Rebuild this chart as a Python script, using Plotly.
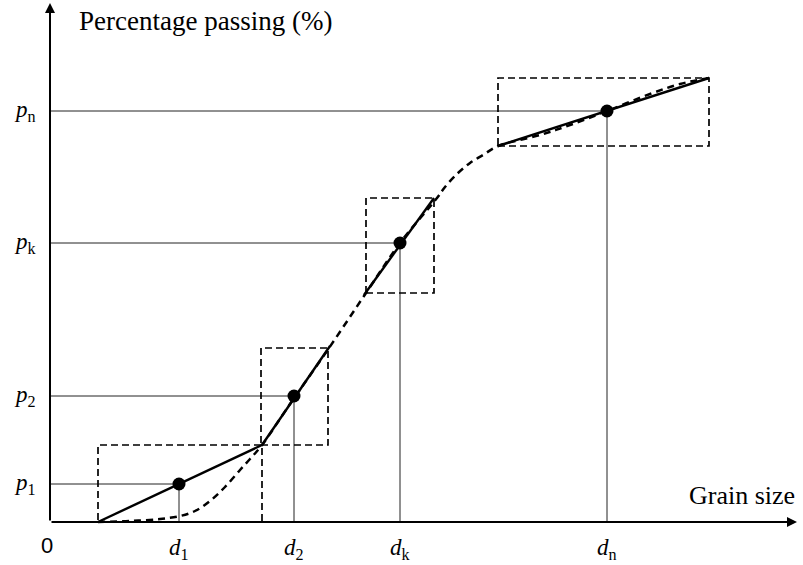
import plotly.graph_objects as go

# Characteristic points (grain size d_i, percentage passing p_i), arbitrary units
d_labels = ["<i>d</i><sub>1</sub>", "<i>d</i><sub>2</sub>", "<i>d</i><sub>k</sub>", "<i>d</i><sub>n</sub>"]
p_labels = ["<i>p</i><sub>1</sub>", "<i>p</i><sub>2</sub>", "<i>p</i><sub>k</sub>", "<i>p</i><sub>n</sub>"]
d_vals = [129, 244, 350, 557]
p_vals = [38, 126, 279, 411]

# Dashed boxes around each point: [x0, x1, y0, y1]
box_x0 = [48, 211, 316, 448]
box_x1 = [212, 278, 384, 659]
box_y0 = [0, 77, 229, 376]
box_y1 = [77, 174, 324, 444]

# Solid linear segments (start/end)
seg_x0 = [48, 212, 314, 448]
seg_y0 = [0, 77, 227, 376]
seg_x1 = [212, 280, 384, 659]
seg_y1 = [77, 176, 324, 444]

# Dashed grading curve
curve_x = [48, 80, 110, 130, 145, 160, 175, 190, 200, 212, 240, 279, 316, 350, 387, 395, 408, 420, 433, 448, 490, 520, 557, 600, 630, 659]
curve_y = [0, 1, 3, 6, 11, 21, 35, 52, 63, 77, 118, 174, 229, 279, 324, 335, 349, 359, 367, 376, 387, 397, 411, 428, 438, 444]

x_range = [-50, 753]
y_range = [-43, 522]

fig = go.Figure()

# Guide lines from axes to points
for dx, py in zip(d_vals, p_vals):
    fig.add_trace(go.Scatter(x=[0, dx, dx], y=[py, py, 0], mode="lines",
                             line=dict(color="#222222", width=1), hoverinfo="skip"))

# Dashed boxes
for x0, x1, y0, y1 in zip(box_x0, box_x1, box_y0, box_y1):
    fig.add_trace(go.Scatter(x=[x0, x1, x1, x0, x0], y=[y0, y0, y1, y1, y0], mode="lines",
                             line=dict(color="black", width=1.7, dash="7px,4px"), hoverinfo="skip"))

# Dashed curve
fig.add_trace(go.Scatter(x=curve_x, y=curve_y, mode="lines",
                         line=dict(color="black", width=2.5, dash="7px,5px", shape="spline", smoothing=1),
                         hoverinfo="skip"))

# Solid segments
for x0, y0, x1, y1 in zip(seg_x0, seg_y0, seg_x1, seg_y1):
    fig.add_trace(go.Scatter(x=[x0, x1], y=[y0, y1], mode="lines",
                             line=dict(color="black", width=2.4), hoverinfo="skip"))

# Points
fig.add_trace(go.Scatter(x=d_vals, y=p_vals, mode="markers",
                         marker=dict(color="black", size=13), hoverinfo="skip"))

serif = "Liberation Serif, Times New Roman, serif"
annotations = []
# Axes with arrows
annotations.append(dict(x=0, y=519, ax=0, ay=0, xref="x", yref="y", axref="x", ayref="y",
                        showarrow=True, arrowhead=2, arrowsize=1, arrowwidth=2, arrowcolor="black", text=""))
annotations.append(dict(x=747, y=0, ax=0, ay=0, xref="x", yref="y", axref="x", ayref="y",
                        showarrow=True, arrowhead=2, arrowsize=1, arrowwidth=2, arrowcolor="black", text=""))

for lab, py in zip(p_labels, p_vals):
    annotations.append(dict(x=-25, y=py, xref="x", yref="y", text=lab, showarrow=False,
                            xanchor="center", yanchor="middle", font=dict(family=serif, size=23, color="black")))
for lab, dx in zip(d_labels, d_vals):
    annotations.append(dict(x=dx, y=-27, xref="x", yref="y", text=lab, showarrow=False,
                            xanchor="center", yanchor="middle", font=dict(family=serif, size=23, color="black")))
annotations.append(dict(x=-3, y=-23, xref="x", yref="y", text="0", showarrow=False,
                        xanchor="center", yanchor="middle", font=dict(family="Arial, Liberation Sans, sans-serif", size=22, color="black")))
annotations.append(dict(x=27, y=501, xref="x", yref="y", text="Percentage passing (%)", showarrow=False,
                        xanchor="left", yanchor="middle", font=dict(family=serif, size=27, color="black")))
annotations.append(dict(x=637, y=27, xref="x", yref="y", text="Grain size", showarrow=False,
                        xanchor="left", yanchor="middle", font=dict(family=serif, size=26, color="black")))

fig.update_layout(
    width=803, height=565,
    margin=dict(l=0, r=0, t=0, b=0),
    paper_bgcolor="white", plot_bgcolor="white",
    showlegend=False,
    annotations=annotations,
    xaxis=dict(range=x_range, visible=False, fixedrange=True),
    yaxis=dict(range=y_range, visible=False, fixedrange=True),
)

fig.write_html("out.html")
